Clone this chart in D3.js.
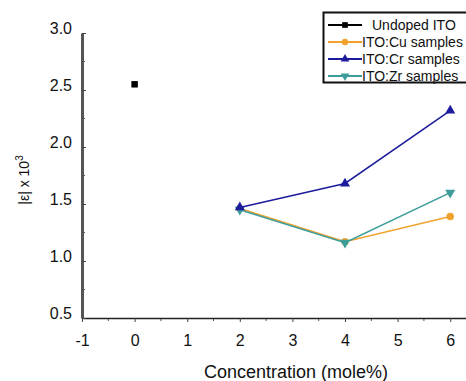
<!DOCTYPE html>
<html>
<head>
<meta charset="utf-8">
<script src="https://cdn.jsdelivr.net/npm/d3@7"></script>
<style>
body { margin: 0; background: #fff; }
svg { font-family: "Liberation Sans", Arial, sans-serif; }
</style>
</head>
<body>
<div id="chart"></div>
<script>
var xTicks = [-1, 0, 1, 2, 3, 4, 5, 6];
var yTicks = [0.5, 1.0, 1.5, 2.0, 2.5, 3.0];

var undopedX = [0];
var undopedY = [2.55];
var dopedX = [2, 4, 6];
var cuY = [1.46, 1.17, 1.39];
var crY = [1.47, 1.68, 2.32];
var zrY = [1.45, 1.16, 1.60];

var seriesNames = ["Undoped ITO", "ITO:Cu samples", "ITO:Cr samples", "ITO:Zr samples"];
var seriesColors = ["#000000", "#f0a22e", "#1c1c9c", "#3b9c9a"];
var seriesSymbols = [d3.symbolSquare, d3.symbolCircle, d3.symbolTriangle, d3.symbolTriangle];

var series = [
	{ xs: undopedX, ys: undopedY },
	{ xs: dopedX, ys: cuY },
	{ xs: dopedX, ys: crY },
	{ xs: dopedX, ys: zrY }
];

var width = 466, height = 381;

var svg = d3.select("#chart").append("svg")
	.attr("width", width)
	.attr("height", height);

var x = d3.scaleLinear().domain([-1, 6.3]).range([82, 466]);
var y = d3.scaleLinear().domain([0.5, 3.0]).range([318, 33]);

// minor ticks
var xMinor = d3.range(-0.5, 6.3, 1);
var yMinor = d3.range(0.75, 3.0, 0.5);

svg.append("g")
	.selectAll("line")
	.data(xMinor)
	.enter().append("line")
	.attr("x1", function(d) { return x(d); })
	.attr("x2", function(d) { return x(d); })
	.attr("y1", 318)
	.attr("y2", 321)
	.attr("stroke", "#555")
	.attr("stroke-width", 1);

svg.append("g")
	.selectAll("line")
	.data(yMinor)
	.enter().append("line")
	.attr("x1", 82)
	.attr("x2", 85)
	.attr("y1", function(d) { return y(d); })
	.attr("y2", function(d) { return y(d); })
	.attr("stroke", "#555")
	.attr("stroke-width", 1);

// x axis
var xAxis = svg.append("g")
	.attr("transform", "translate(0,318)")
	.call(d3.axisBottom(x).tickValues(xTicks).tickSize(4).tickSizeOuter(0).tickPadding(13)
		.tickFormat(function(d) { return String(d); }));
xAxis.select(".domain").attr("stroke", "#222").attr("stroke-width", 1.5);
xAxis.selectAll(".tick line").attr("stroke", "#444");
xAxis.selectAll("text").attr("font-size", 16).attr("fill", "#111").attr("font-family", "Liberation Sans, Arial, sans-serif");

// y axis
var yAxis = svg.append("g")
	.attr("transform", "translate(82,0)")
	.call(d3.axisLeft(y).tickValues(yTicks).tickSize(-4).tickSizeOuter(0).tickPadding(10)
		.tickFormat(d3.format(".1f")));
yAxis.select(".domain").attr("stroke", "#555").attr("stroke-width", 3);
yAxis.selectAll(".tick line").attr("stroke", "#444");
yAxis.selectAll("text").attr("font-size", 16).attr("fill", "#111").attr("dy", "0")
	.attr("font-family", "Liberation Sans, Arial, sans-serif");

// axis titles
svg.append("text")
	.attr("x", 296)
	.attr("y", 378)
	.attr("text-anchor", "middle")
	.attr("font-size", 18)
	.attr("fill", "#111")
	.text("Concentration (mole%)");

var yTitle = svg.append("text")
	.attr("transform", "translate(29,180) rotate(-90)")
	.attr("text-anchor", "middle")
	.attr("font-size", 14)
	.attr("fill", "#111");
yTitle.append("tspan").text("|ε| x 10");
yTitle.append("tspan").attr("dy", -6).attr("font-size", 10).text("3");

// lines and markers
var line = d3.line()
	.x(function(d) { return x(d[0]); })
	.y(function(d) { return y(d[1]); });

var order = [1, 3, 2, 0];
order.forEach(function(i) {
	var s = series[i];
	var pts = s.xs.map(function(v, j) { return [v, s.ys[j]]; });
	if(pts.length > 1) {
		svg.append("path")
			.attr("d", line(pts))
			.attr("fill", "none")
			.attr("stroke", seriesColors[i])
			.attr("stroke-width", 1.5);
	}
	svg.append("g")
		.selectAll("path")
		.data(pts)
		.enter().append("path")
		.attr("transform", function(d) {
			return "translate(" + x(d[0]) + "," + y(d[1]) + ")" + (i === 3 ? " rotate(180)" : "");
		})
		.attr("d", d3.symbol().type(seriesSymbols[i]).size(i === 0 ? 42 : 44))
		.attr("fill", seriesColors[i]);
});

// legend
var legend = svg.append("g");
legend.append("rect")
	.attr("x", 323.5)
	.attr("y", 12.5)
	.attr("width", 150)
	.attr("height", 70)
	.attr("fill", "#fff")
	.attr("stroke", "#111")
	.attr("stroke-width", 2);

var rowY = [25, 42, 59, 76];
var textX = [372, 362, 362, 362];
seriesNames.forEach(function(name, i) {
	legend.append("line")
		.attr("x1", 328)
		.attr("x2", 362)
		.attr("y1", rowY[i])
		.attr("y2", rowY[i])
		.attr("stroke", seriesColors[i])
		.attr("stroke-width", 2);
	legend.append("path")
		.attr("transform", "translate(345," + rowY[i] + ")" + (i === 3 ? " rotate(180)" : ""))
		.attr("d", d3.symbol().type(seriesSymbols[i]).size(32))
		.attr("fill", seriesColors[i]);
	legend.append("text")
		.attr("x", textX[i])
		.attr("y", rowY[i] + 5)
		.attr("font-size", 14)
		.attr("fill", "#111")
		.text(name);
});
</script>
</body>
</html>
